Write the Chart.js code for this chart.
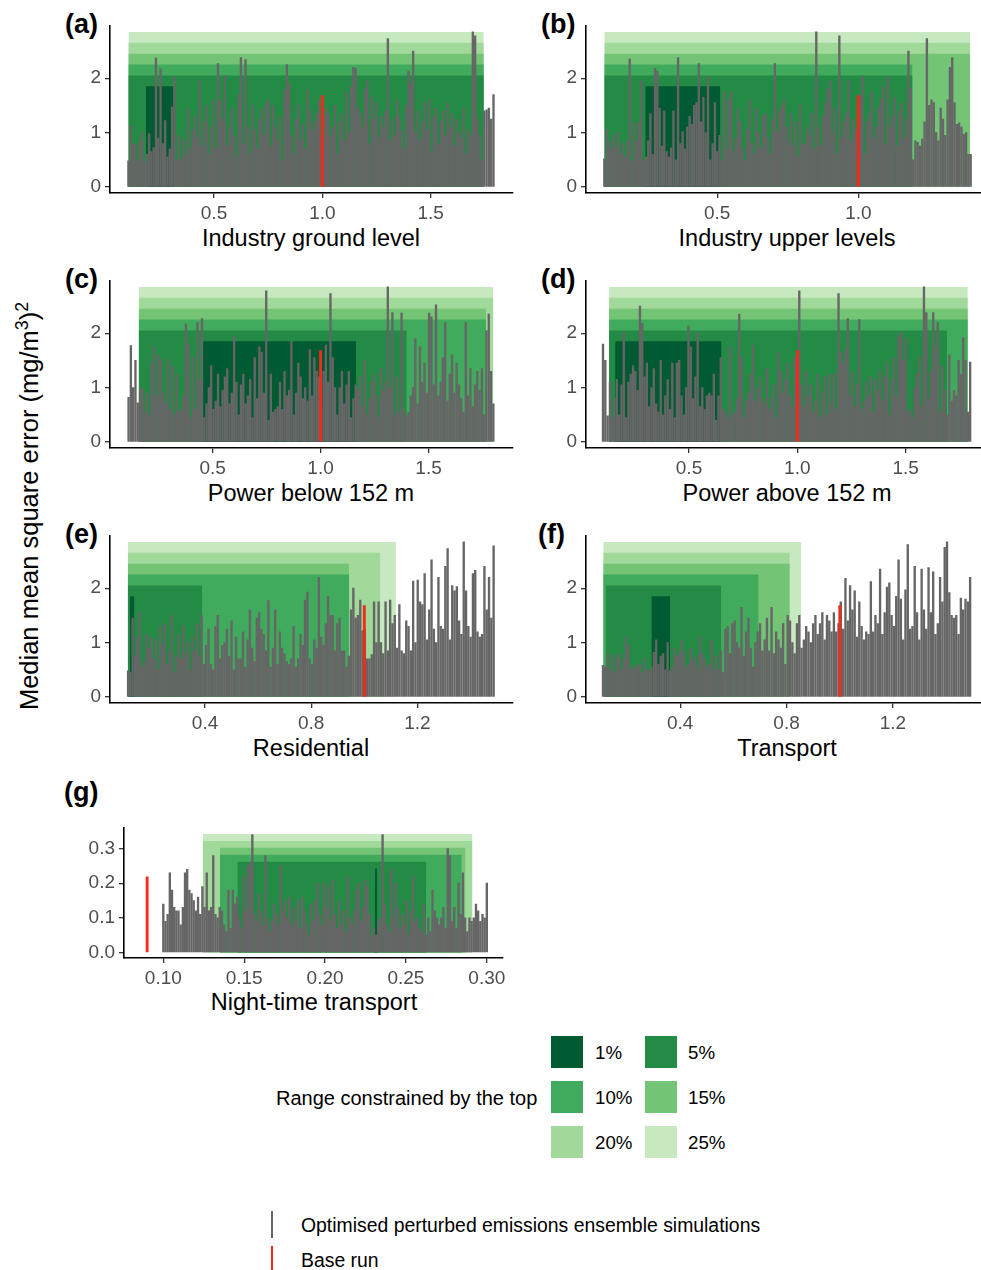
<!DOCTYPE html>
<html>
<head>
<meta charset="utf-8">
<title>Median mean square error by emission sector</title>
<script src="https://cdn.jsdelivr.net/npm/chart.js@4.4.1/dist/chart.umd.min.js"></script>
<style>
  body { margin: 0; background: #fff; font-family: "Liberation Sans", Arial, sans-serif; }
  #page { position: relative; width: 981px; height: 1270px; overflow: hidden; }
  canvas { position: absolute; }
  .tag { position: absolute; font-size: 27px; font-weight: bold; line-height: 1; transform: translateY(-50%); }
  .xtitle { position: absolute; font-size: 23.5px; line-height: 1; white-space: nowrap; transform: translate(-50%, -50%); }
  #ytitle { position: absolute; left: 28px; top: 506px; font-size: 25.5px; line-height: 1; white-space: nowrap; transform: translate(-50%, -50%) rotate(-90deg); }
  #ytitle sup { font-size: 0.7em; }
  .sw { position: absolute; width: 32px; height: 32px; }
  .lt { position: absolute; font-size: 18.7px; line-height: 1; white-space: nowrap; transform: translateY(-50%); }
  .ln { position: absolute; width: 2px; }
</style>
</head>
<body>
<div id="page">
  <div id="ytitle">Median mean square error (mg/m<sup>3</sup>)<sup>2</sup></div>

  <div class="tag" style="left:65px;top:24px">(a)</div>
  <div class="tag" style="left:541px;top:24px">(b)</div>
  <div class="tag" style="left:65px;top:279px">(c)</div>
  <div class="tag" style="left:541px;top:279px">(d)</div>
  <div class="tag" style="left:65px;top:534px">(e)</div>
  <div class="tag" style="left:538px;top:534px">(f)</div>
  <div class="tag" style="left:64px;top:792px">(g)</div>

  <div class="xtitle" style="left:311px;top:239px">Industry ground level</div>
  <div class="xtitle" style="left:787px;top:239px">Industry upper levels</div>
  <div class="xtitle" style="left:311px;top:494px">Power below 152 m</div>
  <div class="xtitle" style="left:787px;top:494px">Power above 152 m</div>
  <div class="xtitle" style="left:311px;top:749px">Residential</div>
  <div class="xtitle" style="left:787px;top:749px">Transport</div>
  <div class="xtitle" style="left:314px;top:1003px">Night-time transport</div>

  <div class="lt" style="left:276px;top:1098px;font-size:20px">Range constrained by the top</div>
  <div class="sw" style="left:551px;top:1036px;background:#005a32"></div>
  <div class="lt" style="left:595px;top:1053px">1%</div>
  <div class="sw" style="left:645px;top:1036px;background:#238b45"></div>
  <div class="lt" style="left:688px;top:1053px">5%</div>
  <div class="sw" style="left:551px;top:1081px;background:#41ab5d"></div>
  <div class="lt" style="left:595px;top:1098px">10%</div>
  <div class="sw" style="left:645px;top:1081px;background:#74c476"></div>
  <div class="lt" style="left:688px;top:1098px">15%</div>
  <div class="sw" style="left:551px;top:1126px;background:#a1d99b"></div>
  <div class="lt" style="left:595px;top:1143px">20%</div>
  <div class="sw" style="left:645px;top:1126px;background:#c7e9c0"></div>
  <div class="lt" style="left:688px;top:1143px">25%</div>

  <div class="ln" style="left:271px;top:1211px;height:27px;background:#666"></div>
  <div class="lt" style="left:301px;top:1226px;font-size:19.4px">Optimised perturbed emissions ensemble simulations</div>
  <div class="ln" style="left:271px;top:1246px;height:24px;background:#f5281a"></div>
  <div class="lt" style="left:301px;top:1261px;font-size:19.4px">Base run</div>
</div>

<script>
// constrained-range levels, 1% .. 25%
const levels = ['1%', '5%', '10%', '15%', '20%', '25%'];
const levelColors = ['#005a32', '#238b45', '#41ab5d', '#74c476', '#a1d99b', '#c7e9c0'];
const levelTop = [1.85, 2.05, 2.25, 2.45, 2.65, 2.85];
const levelTopNight = [0.242, 0.262, 0.282, 0.302, 0.322, 0.342];

// tick labels
const xTicksHalf = [0.5, 1.0, 1.5];
const xTicksFifth = [0.4, 0.8, 1.2];
const xTicksNight = [0.10, 0.15, 0.20, 0.25, 0.30];
const yTicksMain = [0, 1, 2];
const yTicksNight = [0.0, 0.1, 0.2, 0.3];

// base run (scaling factor, MSE)
const baseX = [1.0, 1.0, 1.0, 1.0, 1.0, 1.0, 0.09];
const baseMse = [1.68, 1.68, 1.68, 1.68, 1.68, 1.68, 0.218];

// first / last scaling factor of the ensemble members in each panel
const memberSpan = [[0.105, 1.79], [0.1, 1.398], [0.111, 1.80], [0.103, 1.798], [0.11, 1.487], [0.11, 1.49], [0.1, 0.3]];

// ranges [lo, hi] constrained by the top 1%, 5%, 10%, 15%, 20%, 25%
const rangeIndustryGround = [[0.186, 0.316], [0.105, 1.745], [0.105, 1.745], [0.105, 1.745], [0.105, 1.745], [0.105, 1.745]];
const rangeIndustryUpper = [[0.245, 0.511], [0.1, 1.192], [0.1, 1.192], [0.1, 1.396], [0.1, 1.396], [0.1, 1.396]];
const rangePowerBelow = [[0.45, 1.164], [0.158, 1.399], [0.158, 1.766], [0.158, 1.766], [0.158, 1.80], [0.158, 1.80]];
const rangePowerAbove = [[0.159, 0.65], [0.131, 1.691], [0.131, 1.787], [0.131, 1.787], [0.131, 1.787], [0.131, 1.787]];
const rangeResidential = [[0.117, 0.134], [0.109, 0.389], [0.109, 0.943], [0.109, 0.943], [0.109, 1.06], [0.109, 1.119]];
const rangeTransport = [[0.292, 0.362], [0.12, 0.554], [0.111, 0.695], [0.111, 0.812], [0.111, 0.812], [0.111, 0.855]];
const rangeNight = [[0.2308, 0.2322], [0.1458, 0.2625], [0.135, 0.2845], [0.135, 0.2868], [0.1244, 0.2911], [0.1244, 0.2911]];

// median MSE of each optimised ensemble member, ordered by scaling factor
const mseIndustryGround = [
  0.48, 1.13, 0.8, 0.78, 0.48, 0.85, 1.0, 0.45, 0.6, 0.98,
  0.65, 0.72, 2.37, 0.9, 2.17, 0.8, 1.22, 0.55, 0.7, 1.47,
  2.02, 0.5, 0.95, 0.5, 0.88, 0.6, 1.45, 0.7, 1.05, 1.3,
  0.9, 1.95, 0.75, 1.2, 1.5, 0.6, 1.1, 1.58, 0.7, 2.27,
  1.6, 1.25, 2.05, 0.75, 1.1, 1.45, 0.95, 0.55, 1.7, 2.38,
  0.8, 2.34, 1.1, 0.6, 1.5, 1.05, 0.7, 1.25, 1.45, 0.95,
  1.55, 1.6, 0.75, 1.5, 1.1, 0.85, 1.3, 0.5, 1.78, 2.25,
  1.9, 0.95, 0.6, 1.25, 1.5, 0.85, 1.15, 0.7, 1.78, 1.42,
  1.05, 1.2, 1.35, 1.6, 0.9, 1.3, 1.45, 1.35, 0.95, 1.1,
  1.5, 0.6, 1.2, 1.35, 0.85, 1.75, 1.0, 1.85, 2.2, 2.18,
  1.45, 1.35, 1.1, 1.8, 1.95, 0.8, 1.65, 1.25, 1.55, 0.9,
  1.3, 1.1, 1.4, 2.73, 0.85, 1.25, 0.95, 1.6, 1.3, 1.05,
  0.7, 1.5, 2.13, 1.9, 2.5, 1.0, 1.4, 0.85, 1.2, 1.55,
  1.05, 1.6, 0.65, 1.3, 1.45, 0.8, 1.2, 1.4, 0.95, 1.55,
  1.1, 1.35, 0.75, 1.25, 1.0, 0.9, 1.45, 0.6, 1.05, 0.95,
  2.85, 2.78, 1.25, 0.95, 0.5, 1.4, 1.42, 1.45, 1.25, 1.7
];
const mseIndustryUpper = [
  0.52, 1.05, 0.85, 0.7, 0.95, 0.75, 1.0, 0.6, 0.8, 0.55,
  0.85, 2.35, 0.48, 1.18, 0.85, 1.2, 1.95, 0.5, 0.55, 0.85,
  1.35, 0.6, 2.18, 2.13, 1.45, 0.75, 1.4, 0.65, 0.55, 0.72,
  1.4, 0.5, 2.38, 0.8, 1.02, 0.7, 1.1, 1.3, 1.15, 1.5,
  1.55, 2.27, 1.2, 1.65, 1.0, 2.02, 0.5, 0.8, 1.55, 0.65,
  0.95, 0.48, 1.75, 0.7, 1.6, 1.75, 0.65, 0.9, 1.45, 1.2,
  0.72, 0.5, 1.05, 1.6, 0.8, 0.6, 1.45, 1.0, 0.7, 1.3,
  1.35, 0.9, 0.6, 1.25, 2.27, 1.0, 1.4, 1.5, 1.6, 1.1,
  0.85, 1.35, 0.75, 1.2, 0.55, 1.5, 0.8, 0.78, 1.1, 0.95,
  1.35, 0.7, 2.85, 1.1, 0.75, 1.3, 1.55, 1.8, 1.95, 1.0,
  1.45, 0.6, 2.78, 0.9, 1.2, 1.35, 1.95, 0.85, 1.25, 1.05,
  1.5, 1.68, 2.05, 0.6, 1.2, 1.35, 1.75, 0.9, 1.1, 1.45,
  1.6, 1.85, 0.8, 2.02, 1.1, 1.3, 1.65, 0.75, 1.4, 1.55,
  0.9, 1.25, 2.5, 1.8, 0.5, 0.85, 0.82, 0.75, 0.88, 1.2,
  2.73, 1.5, 1.6, 1.55, 1.0, 0.85, 1.45, 1.25, 0.95, 1.6,
  2.2, 2.38, 1.55, 1.15, 1.18, 1.1, 0.97, 1.0, 0.6, 0.6
];
const msePowerBelow = [
  0.82, 1.77, 1.0, 1.5, 0.72, 0.95, 1.0, 0.55, 0.9, 0.5,
  1.45, 1.75, 0.85, 1.6, 1.52, 0.9, 0.7, 1.52, 0.6, 1.4,
  0.5, 1.25, 0.55, 0.6, 0.85, 2.17, 1.8, 0.45, 1.55, 0.6,
  2.2, 1.15, 2.27, 0.45, 0.7, 1.0, 1.4, 0.6, 0.75, 1.25,
  0.65, 0.95, 1.2, 1.35, 0.7, 0.9, 1.95, 1.1, 0.5, 1.05,
  1.25, 0.7, 0.85, 1.15, 0.45, 1.55, 0.8, 1.75, 1.65, 0.9,
  2.78, 0.4, 1.25, 0.55, 0.6, 0.65, 1.1, 0.6, 1.3, 0.85,
  0.95, 1.85, 0.5, 0.9, 1.45, 1.2, 0.8, 1.0, 0.75, 1.7,
  0.85, 1.55, 1.3, 1.2, 0.6, 1.3, 1.78, 1.1, 2.73, 1.55,
  1.0, 0.5, 1.0, 1.3, 0.7, 1.05, 1.3, 0.45, 0.8, 1.05,
  0.95, 1.2, 0.65, 1.5, 0.5, 0.8, 1.1, 1.25, 0.85, 0.45,
  1.35, 0.95, 1.1, 2.85, 1.0, 2.38, 0.5, 1.2, 0.55, 2.37,
  0.6, 0.48, 0.55, 0.85, 1.0, 1.9, 0.7, 1.75, 1.1, 1.45,
  0.9, 2.37, 2.3, 1.05, 2.52, 0.85, 1.1, 1.55, 2.2, 0.75,
  1.25, 1.6, 0.9, 1.45, 1.05, 0.8, 0.55, 2.2, 0.85, 1.35,
  0.65, 1.05, 1.3, 0.95, 1.35, 0.5, 2.05, 2.35, 1.3, 0.7
];
const msePowerAbove = [
  1.8, 1.5, 0.48, 1.1, 0.45, 0.8, 1.15, 0.5, 1.05, 2.02,
  0.45, 1.1, 1.25, 1.4, 1.3, 0.95, 2.5, 2.18, 1.2, 1.45,
  0.65, 1.0, 1.35, 0.7, 0.55, 1.5, 0.5, 0.85, 1.15, 0.6,
  1.45, 0.45, 1.45, 1.5, 0.85, 0.5, 1.0, 2.13, 1.75, 0.8,
  1.2, 2.02, 0.65, 1.0, 0.6, 0.85, 0.9, 0.85, 1.25, 0.4,
  0.85, 1.55, 0.6, 0.55, 0.45, 1.75, 0.5, 0.55, 0.8, 2.35,
  1.55, 0.45, 0.75, 0.9, 1.25, 1.78, 0.75, 1.0, 1.2, 0.8,
  0.7, 1.35, 0.6, 0.8, 1.05, 0.45, 1.65, 1.3, 0.9, 1.15,
  1.45, 0.85, 0.65, 1.55, 1.1, 2.78, 1.05, 0.65, 1.3, 0.85,
  1.05, 0.55, 0.75, 1.25, 0.45, 0.9, 1.2, 0.5, 1.25, 0.7,
  1.25, 0.6, 2.73, 1.65, 1.45, 1.7, 2.27, 0.85, 1.3, 0.65,
  1.05, 2.25, 0.6, 0.75, 1.1, 0.85, 1.2, 0.55, 1.15, 0.95,
  1.3, 0.75, 1.2, 1.45, 0.5, 1.15, 1.55, 0.85, 1.95, 2.02,
  1.5, 1.9, 0.55, 0.6, 0.45, 1.0, 1.25, 1.55, 0.65, 2.85,
  2.38, 0.8, 1.3, 2.38, 1.75, 2.2, 0.55, 1.4, 0.95, 0.5,
  1.6, 0.75, 0.95, 0.85, 1.5, 1.25, 1.92, 1.5, 0.55, 1.47
];
const mseResidential = [
  0.48, 0.45, 1.45, 0.75, 1.1, 1.55, 0.55, 0.65, 1.15, 0.9,
  1.1, 0.7, 1.05, 0.5, 1.3, 0.95, 1.35, 0.6, 0.85, 1.5,
  0.45, 0.75, 1.15, 0.7, 1.3, 0.8, 1.0, 0.5, 1.1, 0.85,
  1.35, 0.75, 1.5, 0.6, 0.95, 1.25, 0.6, 0.5, 1.3, 1.5,
  0.7, 0.95, 1.0, 1.25, 0.75, 1.4, 0.5, 1.1, 0.7, 0.7,
  1.2, 0.55, 1.05, 1.6, 0.9, 0.65, 1.45, 1.55, 1.25, 1.15,
  0.85, 1.77, 0.55, 0.9, 1.6, 0.6, 1.2, 0.9, 0.8, 0.65,
  0.6, 0.7, 1.3, 0.55, 0.7, 1.15, 0.95, 1.78, 1.93, 0.7,
  0.6, 1.05, 0.9, 2.2, 1.1, 0.95, 1.35, 1.85, 1.5, 1.5,
  0.85, 1.35, 1.45, 0.85, 0.85, 0.55, 0.75, 1.6, 2.0, 1.45,
  1.5, 1.78, 1.22, 1.25, 0.7, 0.7, 0.78, 1.75, 1.0, 1.75,
  1.0, 0.8, 1.75, 0.85, 1.78, 1.35, 1.5, 0.9, 1.7, 0.85,
  0.8, 1.4, 1.3, 0.85, 2.13, 1.0, 2.15, 1.75, 1.7, 2.27,
  1.05, 1.6, 2.52, 1.25, 1.0, 2.2, 1.3, 1.25, 2.4, 2.73,
  1.05, 2.05, 1.95, 2.03, 1.4, 1.15, 2.85, 1.95, 1.3, 1.1,
  2.27, 2.33, 1.2, 1.1, 1.15, 2.4, 1.6, 2.2, 1.45, 2.78
];
const mseTransport = [
  0.58, 0.55, 0.8, 0.5, 0.78, 0.45, 0.72, 0.8, 0.5, 0.7,
  1.1, 0.95, 0.55, 0.5, 0.6, 0.55, 0.6, 0.45, 0.7, 0.5,
  0.48, 0.55, 0.82, 1.05, 0.6, 0.75, 0.8, 0.5, 1.0, 0.48,
  0.55, 0.9, 0.75, 0.8, 1.05, 0.85, 0.55, 0.6, 0.9, 0.65,
  0.75, 0.55, 1.1, 0.8, 0.7, 0.55, 0.6, 1.05, 0.5, 0.75,
  0.5, 0.85, 0.45, 1.25, 1.3, 0.8, 1.35, 1.4, 1.0, 0.9,
  1.65, 0.75, 1.2, 1.45, 0.9, 0.55, 1.0, 1.2, 1.35, 0.85,
  1.05, 1.45, 0.85, 1.65, 0.8, 1.2, 1.05, 0.9, 1.35, 0.6,
  1.5, 1.4, 1.0, 0.8, 1.35, 1.5, 0.9, 1.05, 1.3, 1.2,
  1.0, 1.35, 1.5, 1.15, 1.35, 1.55, 1.05, 1.5, 1.4, 1.2,
  1.55, 1.2, 1.35, 1.75, 1.25, 2.18, 1.4, 2.05, 1.6, 1.95,
  1.1, 1.75, 1.3, 1.05, 1.2, 1.15, 2.12, 1.2, 1.5, 1.35,
  2.35, 1.15, 1.55, 2.02, 2.1, 1.5, 1.3, 1.85, 2.52, 1.8,
  1.05, 1.97, 2.8, 1.25, 1.3, 2.4, 1.55, 1.05, 2.35, 1.6,
  1.25, 2.38, 1.55, 2.3, 1.15, 1.35, 2.2, 1.75, 2.75, 2.85,
  1.92, 1.5, 1.45, 1.5, 1.15, 1.82, 1.6, 1.8, 1.75, 2.2
];
const mseNight = [
  0.14, 0.09, 0.11, 0.23, 0.18, 0.13, 0.12, 0.12, 0.08, 0.13,
  0.23, 0.24, 0.18, 0.17, 0.15, 0.12, 0.16, 0.11, 0.19, 0.13,
  0.23, 0.12, 0.13, 0.28, 0.11, 0.1, 0.13, 0.12, 0.08, 0.06,
  0.18, 0.07, 0.18, 0.14, 0.16, 0.1, 0.07, 0.22, 0.12, 0.25,
  0.26, 0.34, 0.11, 0.09, 0.17, 0.12, 0.08, 0.28, 0.1, 0.06,
  0.09, 0.14, 0.11, 0.08, 0.25, 0.12, 0.15, 0.1, 0.16, 0.08,
  0.13, 0.09, 0.15, 0.07, 0.16, 0.12, 0.08, 0.05, 0.14, 0.09,
  0.15, 0.2, 0.11, 0.08, 0.2, 0.13, 0.19, 0.09, 0.21, 0.11,
  0.07, 0.15, 0.08, 0.12, 0.06, 0.22, 0.1, 0.08, 0.12, 0.18,
  0.2, 0.09, 0.13, 0.21, 0.19, 0.11, 0.05, 0.07, 0.05, 0.09,
  0.1, 0.34, 0.14, 0.08, 0.06, 0.24, 0.1, 0.2, 0.13, 0.07,
  0.11, 0.08, 0.15, 0.05, 0.12, 0.22, 0.09, 0.1, 0.07, 0.06,
  0.14, 0.05, 0.1, 0.06, 0.18, 0.12, 0.1, 0.08, 0.1, 0.13,
  0.07, 0.3, 0.28, 0.09, 0.13, 0.07, 0.2, 0.11, 0.23, 0.1,
  0.06, 0.1, 0.09, 0.1, 0.14, 0.12, 0.09, 0.11, 0.1, 0.2
];

// axis limits (ggplot-style 5% expansion)
const xLimits = [[0.02, 1.88], [0.035, 1.463], [0.025, 1.891], [0.0245, 1.885], [0.042, 1.56], [0.046, 1.561], [0.0757, 0.31]];
const yLimitsMain = [-0.11, 2.97];
const yLimitsNight = [-0.016, 0.361];

// page layout: plot area [left, top, right, bottom] in px
const plotBoxes = [[110, 22, 513, 193], [586, 22, 989, 193], [110, 277, 513, 448], [586, 277, 989, 448], [110, 532, 513, 703], [586, 532, 989, 703], [124, 824, 503, 958]];

const panels = [
  {mse: mseIndustryGround, ranges: rangeIndustryGround, tops: levelTop, xt: xTicksHalf, xd: 1, yt: yTicksMain, yd: 0, yl: yLimitsMain},
  {mse: mseIndustryUpper, ranges: rangeIndustryUpper, tops: levelTop, xt: xTicksHalf, xd: 1, yt: yTicksMain, yd: 0, yl: yLimitsMain},
  {mse: msePowerBelow, ranges: rangePowerBelow, tops: levelTop, xt: xTicksHalf, xd: 1, yt: yTicksMain, yd: 0, yl: yLimitsMain},
  {mse: msePowerAbove, ranges: rangePowerAbove, tops: levelTop, xt: xTicksHalf, xd: 1, yt: yTicksMain, yd: 0, yl: yLimitsMain},
  {mse: mseResidential, ranges: rangeResidential, tops: levelTop, xt: xTicksFifth, xd: 1, yt: yTicksMain, yd: 0, yl: yLimitsMain},
  {mse: mseTransport, ranges: rangeTransport, tops: levelTop, xt: xTicksFifth, xd: 1, yt: yTicksMain, yd: 0, yl: yLimitsMain},
  {mse: mseNight, ranges: rangeNight, tops: levelTopNight, xt: xTicksNight, xd: 2, yt: yTicksNight, yd: 1, yl: yLimitsNight}
];

Chart.defaults.font.family = '"Liberation Sans", Arial, sans-serif';

const Y_AXIS_W = 60, X_AXIS_H = 40, PAD_TOP = 12, PAD_RIGHT = 20;
const page = document.getElementById('page');

panels.forEach((p, k) => {
  const [l, t, r, b] = plotBoxes[k];
  const [xmin, xmax] = xLimits[k];
  const canvas = document.createElement('canvas');
  canvas.width = (r - l) + Y_AXIS_W + PAD_RIGHT;
  canvas.height = (b - t) + PAD_TOP + X_AXIS_H;
  canvas.style.left = (l - Y_AXIS_W) + 'px';
  canvas.style.top = (t - PAD_TOP) + 'px';
  page.appendChild(canvas);

  const [x0, x1] = memberSpan[k];
  const step = (x1 - x0) / (p.mse.length - 1);
  const members = p.mse.map((v, i) => ({x: x0 + i * step, y: v}));

  const rects = p.ranges.map((rg, j) => ({
    type: 'line',
    label: levels[j],
    data: [{x: rg[0], y: 0}, {x: rg[0], y: p.tops[j]}, {x: rg[1], y: p.tops[j]}, {x: rg[1], y: 0}],
    backgroundColor: levelColors[j],
    borderColor: 'rgba(0,0,0,0)',
    borderWidth: 0,
    pointRadius: 0,
    tension: 0,
    fill: 'origin',
    order: 20 + j
  }));

  new Chart(canvas.getContext('2d'), {
    type: 'bar',
    data: {
      datasets: [
        ...rects,
        {type: 'bar', label: 'ensemble', data: members, backgroundColor: '#666666', barThickness: 1.7, grouped: false, order: 2},
        {type: 'bar', label: 'base', data: [{x: baseX[k], y: baseMse[k]}], backgroundColor: '#f5281a', barThickness: 2.2, grouped: false, order: 1}
      ]
    },
    options: {
      responsive: false,
      animation: false,
      devicePixelRatio: 1,
      events: [],
      layout: {padding: {top: PAD_TOP, right: PAD_RIGHT, left: 0, bottom: 0}},
      plugins: {legend: {display: false}, tooltip: {enabled: false}},
      scales: {
        x: {
          type: 'linear',
          min: xmin,
          max: xmax,
          offset: false,
          border: {display: true, color: '#000', width: 1.6},
          grid: {display: true, offset: false, drawOnChartArea: false, drawTicks: true, tickLength: 5, color: '#333', lineWidth: 1.3},
          ticks: {color: '#4d4d4d', font: {size: 19}, padding: 4, maxRotation: 0, autoSkip: false,
                  callback: v => Number(v).toFixed(p.xd)},
          afterBuildTicks: s => { s.ticks = p.xt.filter(v => v >= xmin && v <= xmax).map(v => ({value: v})); },
          afterFit: s => { s.height = X_AXIS_H; }
        },
        y: {
          type: 'linear',
          min: p.yl[0],
          max: p.yl[1],
          border: {display: true, color: '#000', width: 1.6},
          grid: {display: true, drawOnChartArea: false, drawTicks: true, tickLength: 5, color: '#333', lineWidth: 1.3},
          ticks: {color: '#4d4d4d', font: {size: 19}, padding: 4,
                  callback: v => Number(v).toFixed(p.yd)},
          afterBuildTicks: s => { s.ticks = p.yt.map(v => ({value: v})); },
          afterFit: s => { s.width = Y_AXIS_W; }
        }
      }
    }
  });
});
</script>
</body>
</html>
